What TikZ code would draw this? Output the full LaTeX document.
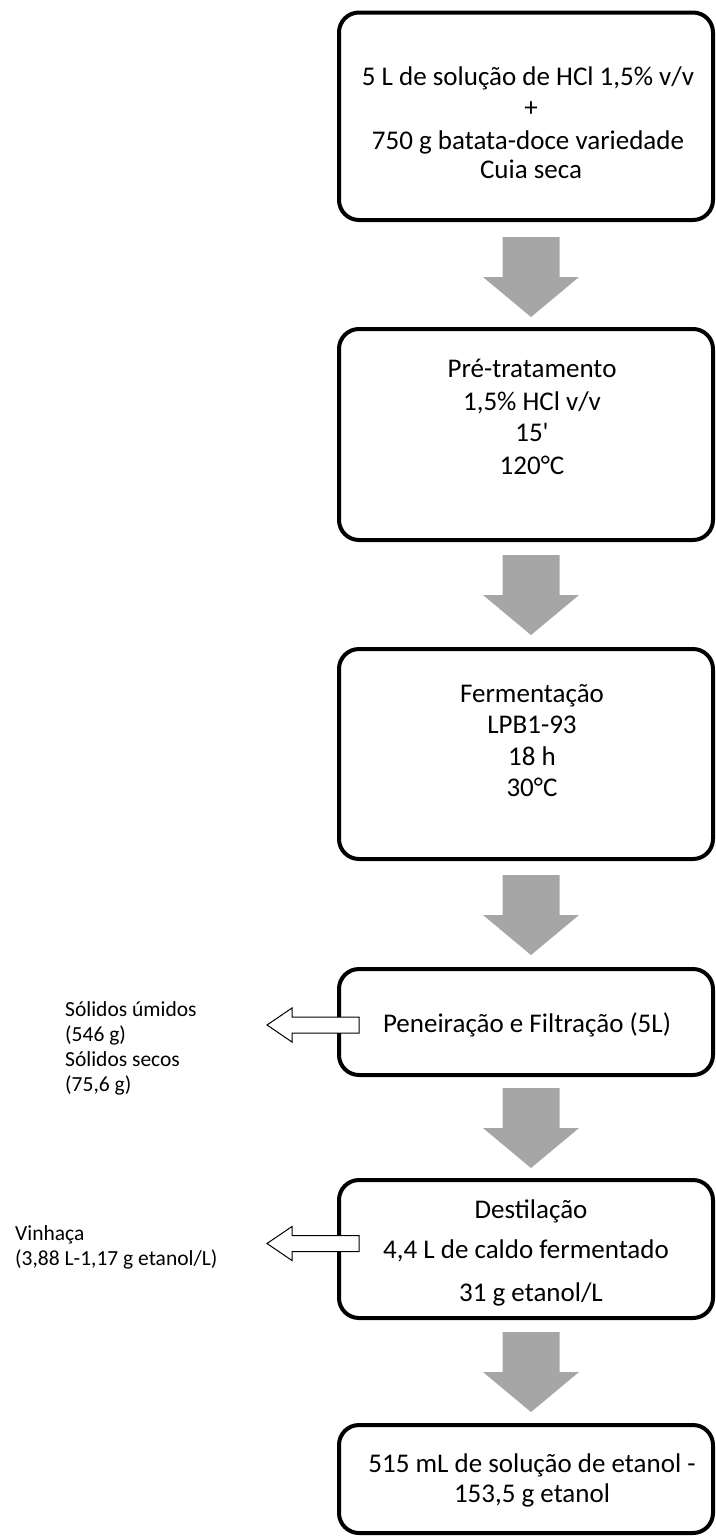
\documentclass[tikz,border=0pt]{standalone}
\usepackage{fontspec}
\setmainfont{Carlito}
\newfontfamily\plainfont{Carlito}
\definecolor{agray}{RGB}{166,166,166}
\begin{document}
\begin{tikzpicture}[x=1pt,y=-1pt,
  box/.style={draw=black, line width=4pt, rounded corners=20pt, fill=white, inner sep=0pt},
  bt/.style={font=\fontsize{27}{32}\selectfont, anchor=base, inner sep=0pt},
  st/.style={font=\fontsize{21.5}{25}\selectfont, anchor=base west, inner sep=0pt},
  grayarrow/.pic={\fill[agray] (-28.5,0) -- (28.5,0) -- (28.5,40) -- (48,40) -- (0,80) -- (-48,40) -- (-28.5,40) -- cycle;},
  outarrow/.pic={\draw[fill=white, line width=1pt, line join=miter] (0,-8) -- (-67,-8) -- (-67,-17) -- (-92,0) -- (-67,17) -- (-67,8) -- (0,8) -- cycle;}
]
\useasboundingbox (0,0) rectangle (715,1537);
\fill[white] (0,0) rectangle (715,1537);

% boxes
\node[box, minimum width=374pt, minimum height=207.5pt] (b1) at (526,116.25) {};
\node[box, minimum width=374pt, minimum height=211pt] (b2) at (526,434.5) {};
\node[box, minimum width=374pt, minimum height=210pt] (b3) at (526,754) {};
\node[box, minimum width=374pt, minimum height=106pt] (b4) at (526,1022) {};
\node[box, minimum width=374pt, minimum height=138pt] (b5) at (526,1249) {};
\node[box, minimum width=374pt, minimum height=108pt] (b6) at (526,1479) {};

% box texts
\node[bt] (t1a) at (528,85) {5 L de solução de HCl 1,5\% v/v};
\node[bt] (t1b) at (531,116) {+};
\node[bt] (t1c) at (528,149) {750 g batata-doce variedade};
\node[bt] (t1d) at (531,178) {Cuia seca};

\node[bt] (t2a) at (532,377) {Pré-tratamento};
\node[bt] (t2b) at (532,410) {1,5\% HCl v/v};
\node[bt] (t2c) at (532,441) {\plainfont 15'};
\node[bt] (t2d) at (532,474) {120°C};

\node[bt] (t3a) at (532,702) {Fermentação};
\node[bt] (t3b) at (532,733) {LPB1-93};
\node[bt] (t3c) at (532,765) {18 h};
\node[bt] (t3d) at (532,796) {30°C};

\node[bt] (t4a) at (527,1032) {Peneiração e Filtração (5L)};

\node[bt] (t5a) at (531,1218) {Destilação};
\node[bt] (t5b) at (526,1258) {4,4 L de caldo fermentado};
\node[bt] (t5c) at (531,1301) {31 g etanol/L};

\node[bt] (t6a) at (532,1472) {515 mL de solução de etanol -};
\node[bt] (t6b) at (532,1502) {153,5 g etanol};

% gray block arrows between boxes
\pic at (531,237) {grayarrow};
\pic at (531,555) {grayarrow};
\pic at (531,875) {grayarrow};
\pic at (531,1088) {grayarrow};
\pic at (531,1332) {grayarrow};

% side outputs
\pic at (359,1025) {outarrow};
\pic at (359,1243.5) {outarrow};

\node[st] (s1) at (65,1016) {Sólidos úmidos};
\node[st] (s2) at (65,1041) {(546 g)};
\node[st] (s3) at (65,1066) {Sólidos secos};
\node[st] (s4) at (65,1091) {(75,6 g)};

\node[st] (v1) at (15,1240) {Vinhaça};
\node[st] (v2) at (15,1265) {(3,88 L-1,17 g etanol/L)};
\end{tikzpicture}
\end{document}
